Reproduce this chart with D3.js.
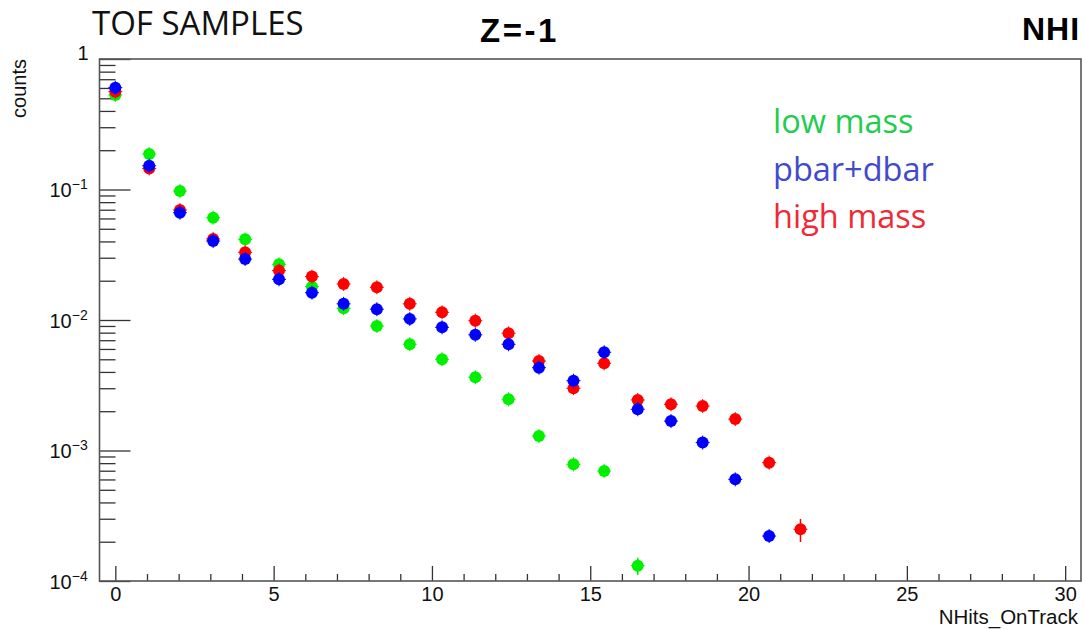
<!DOCTYPE html>
<html>
<head>
<meta charset="utf-8">
<script src="https://cdn.jsdelivr.net/npm/d3@7"></script>
<style>
  body { margin: 0; background: #fff; }
  svg { display: block; }
  .tick text { font-family: "Liberation Sans", Arial, sans-serif; font-size: 20px; fill: #111; }
</style>
</head>
<body>
<div class="chart"></div>
<script>
var svgWidth = 1084;
var svgHeight = 629;

// bin centres (NHits_OnTrack)
var nhits = [0.0, 1.07, 2.04, 3.09, 4.1, 5.17, 6.21, 7.21, 8.26, 9.3, 10.32,
             11.37, 12.42, 13.38, 14.47, 15.44, 16.5, 17.55, 18.55, 19.58, 20.65, 21.64];

// normalised counts per series (null = empty bin)
var lowMass = [0.530, 0.187, 0.0974, 0.0608, 0.0415, 0.0267, 0.0180, 0.0123, 0.0090, 0.00652, 0.0050,
               0.00364, 0.00247, 0.00129, 0.000783, 0.000697, 0.000131, null, null, null, null, null];
var pbarDbar = [0.603, 0.152, 0.0664, 0.0403, 0.0293, 0.0205, 0.0162, 0.0133, 0.0121, 0.0102, 0.00879,
                0.0077, 0.00651, 0.00431, 0.00343, 0.00566, 0.00207, 0.00168, 0.00115, 0.000601, 0.000221, null];
var highMass = [0.562, 0.145, 0.0697, 0.0418, 0.0330, 0.0239, 0.0215, 0.0189, 0.0178, 0.0133, 0.01145,
                0.00988, 0.00791, 0.00485, 0.0030, 0.00466, 0.00244, 0.00226, 0.00219, 0.00174, 0.000807, 0.000249];

// vertical errors (only the tail ones are large enough to show)
var lowMassErr = [0, 0, 0, 0, 0, 0, 0, 0, 0, 0, 0, 0, 0, 0, 0.00003, 0.00003, 0.00002, 0, 0, 0, 0, 0];
var pbarDbarErr = [0, 0, 0, 0, 0, 0, 0, 0, 0, 0, 0, 0, 0, 0, 0, 0, 0, 0, 0, 0, 0.00002, 0];
var highMassErr = [0, 0, 0, 0, 0, 0, 0, 0, 0, 0, 0, 0, 0, 0, 0, 0, 0, 0, 0, 0, 0.00003, 0.00005];

var seriesNames = ["low mass", "pbar+dbar", "high mass"];
var markerColors = ["#00f000", "#0000ff", "#ff0000"];
var legendColors = ["#22cc4e", "#3f4acc", "#ee2a36"];

var xTicksMajor = [0, 5, 10, 15, 20, 25, 30];
var yDecades = [1, 1e-1, 1e-2, 1e-3, 1e-4];
var yExponents = ["", "\u22121", "\u22122", "\u22123", "\u22124"];

var frame = {left: 99.5, right: 1081, top: 59, bottom: 581};

var svg = d3.select(".chart")
	.append("svg")
	.attr("width", svgWidth)
	.attr("height", svgHeight);

var x = d3.scaleLinear().domain([-0.5, 30.5]).range([frame.left, frame.right]);
var y = d3.scaleLog().domain([1e-4, 1]).range([frame.bottom, frame.top]);

//Minor x ticks on every integer
var xMinor = d3.range(0, 31).filter(function(d) { return d % 5 !== 0; });
svg.append("g")
	.attr("transform", "translate(0," + frame.bottom + ")")
	.call(d3.axisBottom(x).tickValues(xMinor).tickSize(-7).tickFormat(""))
	.call(function(g) { g.select(".domain").remove(); g.selectAll("line").attr("stroke", "#333").attr("stroke-width", 1.3); });

//Major x ticks + labels
svg.append("g")
	.attr("transform", "translate(0," + frame.bottom + ")")
	.call(d3.axisBottom(x).tickValues(xTicksMajor).tickSize(-15).tickPadding(6).tickFormat(d3.format("d")))
	.call(function(g) { g.select(".domain").remove(); g.selectAll("line").attr("stroke", "#333").attr("stroke-width", 1.3); });

//Minor y ticks 2..9 in each decade
var yMinor = [];
yDecades.slice(1).forEach(function(d) {
	for (var k = 2; k <= 9; k++) yMinor.push(d * k);
});
svg.append("g")
	.attr("transform", "translate(" + frame.left + ",0)")
	.call(d3.axisLeft(y).tickValues(yMinor).tickSize(-16).tickFormat(""))
	.call(function(g) { g.select(".domain").remove(); g.selectAll("line").attr("stroke", "#333").attr("stroke-width", 1.3); });

//Major y ticks with 10^n labels
var yMajor = svg.append("g")
	.attr("transform", "translate(" + frame.left + ",0)")
	.call(d3.axisLeft(y).tickValues(yDecades).tickSize(-31).tickFormat(""));
yMajor.select(".domain").remove();
yMajor.selectAll("line").attr("stroke", "#333").attr("stroke-width", 1.3);
yMajor.selectAll(".tick").each(function(d, i) {
	var t = d3.select(this).append("text")
		.attr("dy", i === 0 ? "0.0em" : "0.35em");
	if (i === 0) {
		t.attr("x", -11).attr("text-anchor", "end").text("1");
	} else {
		t.attr("x", -50).attr("text-anchor", "start");
		t.append("tspan").text("10");
		t.append("tspan").attr("dy", "-0.55em").style("font-size", "14px").text(yExponents[i]);
	}
});

//Frame
svg.append("rect")
	.attr("x", frame.left)
	.attr("y", frame.top)
	.attr("width", frame.right - frame.left)
	.attr("height", frame.bottom - frame.top)
	.attr("fill", "none")
	.attr("stroke", "#555")
	.attr("stroke-width", 1.6);

//Series points (drawn green, red, blue so blue ends on top)
var allSeries = [lowMass, highMass, pbarDbar];
var allErr = [lowMassErr, highMassErr, pbarDbarErr];
var allColor = [markerColors[0], markerColors[2], markerColors[1]];
var r = 6;

allSeries.forEach(function(vals, s) {
	var pts = vals.map(function(v, i) { return {x: nhits[i], v: v, e: allErr[s][i]}; })
		.filter(function(p) { return p.v !== null; });
	var g = svg.append("g").attr("stroke", allColor[s]).attr("fill", allColor[s]);

	g.selectAll(".err")
		.data(pts.filter(function(p) { return p.e > 0; }))
		.enter().append("line")
		.attr("x1", function(p) { return x(p.x); })
		.attr("x2", function(p) { return x(p.x); })
		.attr("y1", function(p) { return y(p.v + p.e); })
		.attr("y2", function(p) { return y(p.v - p.e); })
		.attr("stroke-width", 1.5);

	g.selectAll(".hbar")
		.data(pts)
		.enter().append("line")
		.attr("x1", function(p) { return x(p.x) - r - 1; })
		.attr("x2", function(p) { return x(p.x) + r + 1; })
		.attr("y1", function(p) { return y(p.v); })
		.attr("y2", function(p) { return y(p.v); })
		.attr("stroke-width", 1);

	g.selectAll(".vbar")
		.data(pts)
		.enter().append("line")
		.attr("x1", function(p) { return x(p.x); })
		.attr("x2", function(p) { return x(p.x); })
		.attr("y1", function(p) { return y(p.v) - r - 1; })
		.attr("y2", function(p) { return y(p.v) + r + 1; })
		.attr("stroke-width", 1);

	g.selectAll("circle")
		.data(pts)
		.enter().append("circle")
		.attr("cx", function(p) { return x(p.x); })
		.attr("cy", function(p) { return y(p.v); })
		.attr("r", r)
		.attr("stroke", "none");
});

//Axis titles
svg.append("text")
	.attr("transform", "translate(26," + frame.top + ") rotate(-90)")
	.attr("text-anchor", "end")
	.style("font-family", "Liberation Sans, Arial, sans-serif")
	.style("font-size", "20px")
	.attr("fill", "#111")
	.text("counts");

svg.append("text")
	.attr("x", 1078)
	.attr("y", 624)
	.attr("text-anchor", "end")
	.style("font-family", "Liberation Sans, Arial, sans-serif")
	.style("font-size", "20.5px")
	.attr("fill", "#111")
	.text("NHits_OnTrack");

//Titles
svg.append("text")
	.attr("x", 92)
	.attr("y", 35)
	.style("font-family", "Open Sans, sans-serif")
	.style("font-size", "33px")
	.attr("fill", "#111")
	.text("TOF SAMPLES");

svg.append("text")
	.attr("x", 480)
	.attr("y", 42)
	.style("font-family", "Liberation Sans, Arial, sans-serif")
	.style("font-size", "33px")
	.style("font-weight", "bold")
	.style("letter-spacing", "2.5px")
	.attr("fill", "#000")
	.text("Z=-1");

svg.append("text")
	.attr("x", 1022)
	.attr("y", 40)
	.style("font-family", "Liberation Sans, Arial, sans-serif")
	.style("font-size", "32px")
	.style("font-weight", "bold")
	.style("letter-spacing", "1px")
	.attr("fill", "#000")
	.text("NHI");

//Legend
svg.selectAll(".legend")
	.data(seriesNames)
	.enter().append("text")
	.attr("class", "legend")
	.attr("x", 773)
	.attr("y", function(d, i) { return 133 + i * 47.5; })
	.style("font-family", "Open Sans, sans-serif")
	.style("font-size", "32.5px")
	.attr("fill", function(d, i) { return legendColors[i]; })
	.text(function(d) { return d; });
</script>
</body>
</html>
